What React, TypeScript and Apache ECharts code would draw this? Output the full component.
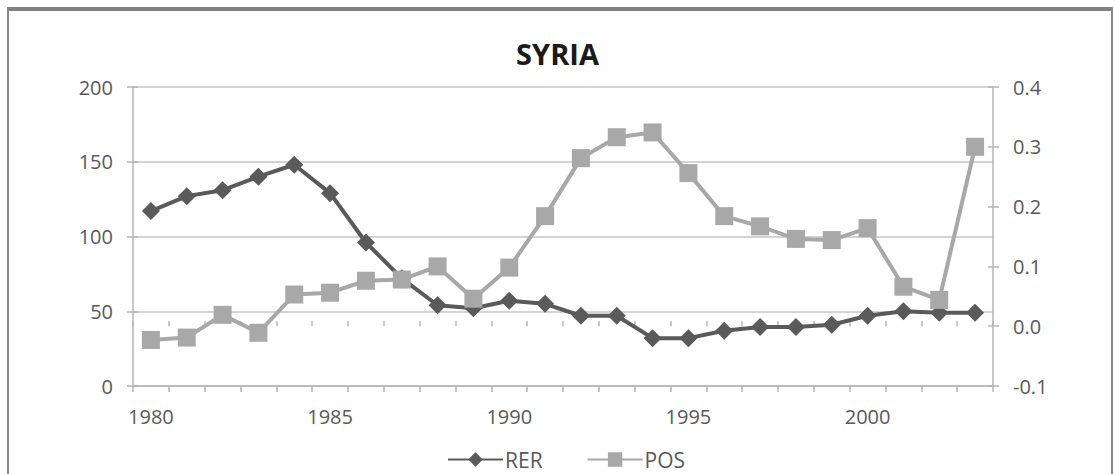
import React, { useEffect, useRef } from "react";
import * as echarts from "echarts";

const years = [
  "1980", "1981", "1982", "1983", "1984", "1985", "1986", "1987", "1988", "1989",
  "1990", "1991", "1992", "1993", "1994", "1995", "1996", "1997", "1998", "1999",
  "2000", "2001", "2002", "2003",
];
const rer = [
  117, 127, 131, 140, 148, 129, 96, 72, 54, 52,
  57, 55, 47, 47, 32, 32, 37, 39.5, 39.5, 41,
  47, 50, 49, 49,
];
const pos = [
  -0.023, -0.019, 0.019, -0.011, 0.053, 0.056, 0.076, 0.078, 0.1, 0.046,
  0.098, 0.184, 0.281, 0.316, 0.324, 0.256, 0.184, 0.167, 0.146, 0.144,
  0.164, 0.066, 0.044, 0.3,
];
const leftTicks = { min: 0, max: 200, interval: 50 };
const rightTicks = { min: -0.1, max: 0.4, interval: 0.1 };

const FONT = "'Open Sans', 'Noto Sans', sans-serif";
const AXIS_COLOR = "#b5b5b5";
const TEXT_COLOR = "#595959";

export default function App() {
  const ref = useRef<HTMLDivElement>(null);
  useEffect(() => {
    if (!ref.current) return;
    const chart = echarts.init(ref.current, null, { renderer: "svg" });
    const tickOut = { show: true, inside: false, length: 6, lineStyle: { color: AXIS_COLOR, width: 1.5 } };
    const tickIn = { show: true, inside: true, length: 5, lineStyle: { color: AXIS_COLOR, width: 1.5 } };
    chart.setOption({
      animation: false,
      backgroundColor: "#ffffff",
      textStyle: { fontFamily: FONT },
      title: {
        text: "SYRIA",
        left: "center",
        top: 34,
        textStyle: { fontFamily: FONT, fontWeight: "bold", fontSize: 29, color: "#1a1a1a" },
      },
      graphic: [
        { type: "rect", shape: { x: 7, y: 7, width: 1106, height: 4 }, style: { fill: "#808080" }, silent: true },
        { type: "rect", shape: { x: 7, y: 7, width: 2, height: 467 }, style: { fill: "#8a8a8a" }, silent: true },
        { type: "rect", shape: { x: 1111, y: 7, width: 2, height: 467 }, style: { fill: "#8a8a8a" }, silent: true },
      ],
      legend: {
        left: 442,
        top: 444,
        itemWidth: 55,
        itemHeight: 18,
        itemGap: 44,
        textStyle: { fontFamily: FONT, fontSize: 21, color: TEXT_COLOR, padding: [0, 0, 0, -3] },
        data: ["RER", "POS"],
      },
      grid: { left: 133, right: 122, top: 87, bottom: 88, containLabel: false },
      xAxis: [
        {
          type: "category",
          data: years,
          boundaryGap: true,
          axisLine: { show: true, lineStyle: { color: AXIS_COLOR, width: 1.5 } },
          axisTick: { ...tickOut, interval: 0 },
          axisLabel: { interval: 4, margin: 20, fontFamily: FONT, fontSize: 20, color: TEXT_COLOR },
          splitLine: { show: false },
        },
        {
          type: "category",
          data: years,
          position: "bottom",
          boundaryGap: true,
          axisLine: { show: false },
          axisTick: { ...tickIn, interval: 0 },
          axisLabel: { show: false },
          splitLine: { show: false },
        },
      ],
      yAxis: [
        {
          type: "value",
          position: "left",
          ...leftTicks,
          axisLine: { show: true, lineStyle: { color: AXIS_COLOR, width: 1.5 } },
          axisTick: tickOut,
          axisLabel: { margin: 20, fontFamily: FONT, fontSize: 20, color: TEXT_COLOR },
          splitLine: { show: true, lineStyle: { color: "#c4c4c4", width: 1.5 } },
        },
        {
          type: "value",
          position: "right",
          ...rightTicks,
          axisLine: { show: true, lineStyle: { color: AXIS_COLOR, width: 1.5 } },
          axisTick: tickOut,
          axisLabel: {
            margin: 20,
            fontFamily: FONT,
            fontSize: 20,
            color: TEXT_COLOR,
            formatter: (v: number) => v.toFixed(1),
          },
          splitLine: { show: false },
        },
        {
          type: "value",
          position: "left",
          ...leftTicks,
          axisLine: { show: false },
          axisTick: tickIn,
          axisLabel: { show: false },
          splitLine: { show: false },
        },
        {
          type: "value",
          position: "right",
          ...rightTicks,
          axisLine: { show: false },
          axisTick: tickIn,
          axisLabel: { show: false },
          splitLine: { show: false },
        },
      ],
      series: [
        {
          name: "RER",
          type: "line",
          xAxisIndex: 0,
          yAxisIndex: 0,
          data: rer,
          symbol: "diamond",
          symbolSize: [18, 18],
          lineStyle: { color: "#5a5a5a", width: 4 },
          itemStyle: { color: "#5a5a5a", borderWidth: 0 },
        },
        {
          name: "POS",
          type: "line",
          xAxisIndex: 0,
          yAxisIndex: 1,
          data: pos,
          symbol: "rect",
          symbolSize: 18,
          lineStyle: { color: "#a8a8a8", width: 4 },
          itemStyle: { color: "#a8a8a8", borderWidth: 0 },
        },
      ],
    });
    return () => chart.dispose();
  }, []);
  return (
    <div
      ref={ref}
      style={{ position: "fixed", left: 0, top: 0, width: 1115, height: 474, background: "#fff" }}
    />
  );
}
